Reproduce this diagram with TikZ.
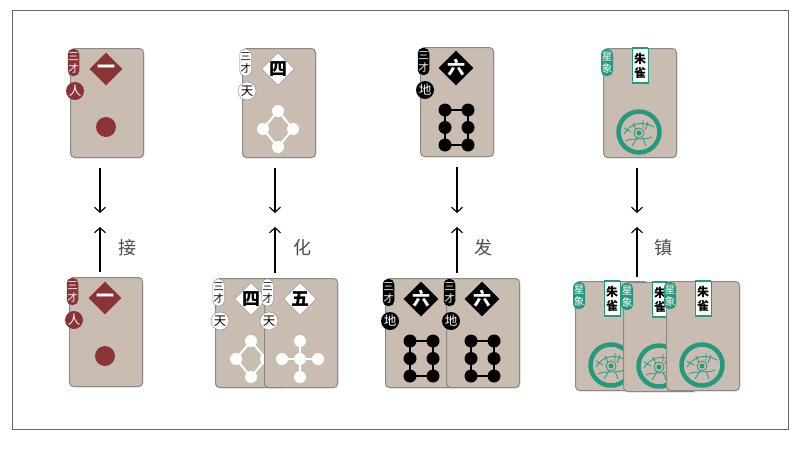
\documentclass[tikz,border=0pt]{standalone}
\usepackage{fontspec}
\setmainfont{Noto Sans CJK SC}
\usepackage{tikz}
\usetikzlibrary{shapes,arrows.meta,shadows}

\definecolor{fondcarte}{RGB}{201,189,177}
\definecolor{bordcarte}{RGB}{140,136,132}
\definecolor{rouge}{RGB}{139,52,55}
\definecolor{sarcelle}{RGB}{38,152,126}

\newcommand{\sancai}[6]{%
	\node[carte] (#1) at #2 {};
	\begin{scope}[shift={(#1.north west)}]
		\node[onglet,#3] (#1o) at (3.5,14.5) {三\\才};
		\node[pastille,#3] (#1p) at (5,43) {#4};
		\node[losange,#3] (#1l) at (36,21) {#5};
		#6
	\end{scope}}

\newcommand{\xingxiang}[2]{%
	\node[carte] (#1) at #2 {};
	\begin{scope}[shift={(#1.north west)}]
		\node[onglet,fill=sarcelle,text=white,minimum width=12pt] (#1o) at (4,14.5) {星\\象};
		\node[etiquette] (#1e) at (37,17.5) {朱\\雀};
		\draw[sarcelle,line width=2pt] (#1e.north west) -- (#1e.north east);
		\draw[sarcelle,line width=2pt] (#1e.south west) -- (#1e.south east);
		\draw[sarcelle,line width=4.5pt] (36,84) circle (20.5pt);
		\fill[sarcelle] (36,85) circle (2.5pt);
		\draw[sarcelle,line width=0.8pt] (21,86) .. controls (27,76) and (38,72) .. (51,79);
		\draw[sarcelle,line width=0.8pt] (23,93) .. controls (30,89) and (40,93) .. (49,89);
		\draw[sarcelle,line width=0.8pt] (30,75) -- (33,82) (40,72) -- (40,80) (45,74) -- (42,82);
		\draw[sarcelle,line width=0.8pt] (21,80) -- (28,84) (29,98) -- (34,90) (43,98) -- (40,90);
		\draw[sarcelle,line width=0.8pt] (36,85) circle (5pt);
	\end{scope}}

\newcommand{\motifun}{\fill[rouge] (36,79) circle (10pt);}
\newcommand{\motifquatre}{%
	\draw[white,line width=2pt] (36,63) -- (21,81) -- (36,99) -- (51,81) -- cycle;
	\foreach \p in {(36,63),(21,81),(51,81),(36,99)} \fill[white] \p circle (6pt);}
\newcommand{\motifcinq}{%
	\draw[white,line width=2pt] (36,63) -- (36,99) (18,81) -- (54,81);
	\foreach \p in {(36,63),(18,81),(36,81),(54,81),(36,99)} \fill[white] \p circle (6pt);}
\newcommand{\motifsix}{%
	\draw[black,line width=2pt] (25,63) rectangle (48,98);
	\foreach \p in {(25,63),(48,63),(25,80.5),(48,80.5),(25,98),(48,98)} \fill[black] \p circle (6.5pt);}

\begin{document}
\begin{tikzpicture}[x=1pt,y=-1pt]
	\tikzstyle{cadre}=[draw=black!60,line width=1pt]
	\tikzstyle{carte}=[rectangle,draw=bordcarte,fill=fondcarte,line width=1pt,
	rounded corners=4pt,minimum width=73pt,minimum height=109pt,inner sep=0pt,
	anchor=north west,drop shadow={opacity=0.25,shadow xshift=0.8pt,shadow yshift=-0.8pt}]
	\tikzstyle{onglet}=[rectangle,rounded corners=5pt,minimum width=11pt,
	minimum height=27pt,inner sep=0.5pt,align=center,font=\fontsize{10.5}{12}\selectfont]
	\tikzstyle{pastille}=[circle,minimum size=18pt,inner sep=0pt,font=\fontsize{12.5}{12.5}\selectfont]
	\tikzstyle{losange}=[diamond,minimum size=33pt,inner sep=0pt,font=\bfseries\fontsize{18}{18}\selectfont]
	\tikzstyle{etiquette}=[rectangle,fill=white,draw=sarcelle,line width=0.6pt,
	minimum width=16pt,minimum height=35pt,inner sep=1pt,align=center,
	font=\bfseries\fontsize{12}{14}\selectfont]
	\tikzstyle{ren}=[fill=rouge,text=white]
	\tikzstyle{tian}=[fill=white,text=black,draw=black!50,line width=0.4pt]
	\tikzstyle{di}=[fill=black,text=white]
	\tikzstyle{verbe}=[text=black!70,font=\fontsize{18}{18}\selectfont]

	\useasboundingbox (0,0) rectangle (805,450);
	\draw[cadre] (12,10) rectangle (788,429);

	\sancai{h1}{(70,48)}{ren}{人}{一}{\motifun}
	\sancai{h2}{(242,48)}{tian}{天}{四}{\motifquatre}
	\sancai{h3}{(420,47)}{di}{地}{六}{\motifsix}
	\xingxiang{h4}{(603,48)}

	\sancai{b1}{(69,277)}{ren}{人}{一}{\motifun}
	\sancai{b2a}{(215,278)}{tian}{天}{四}{\motifquatre}
	\sancai{b2b}{(264,278)}{tian}{天}{五}{\motifcinq}
	\sancai{b3a}{(385,278)}{di}{地}{六}{\motifsix}
	\sancai{b3b}{(446,278)}{di}{地}{六}{\motifsix}
	\xingxiang{b4a}{(575,281)}
	\xingxiang{b4b}{(623,282)}
	\xingxiang{b4c}{(666,281)}

	\node[verbe] (v1) at (127,248) {接};
	\node[verbe] (v2) at (302,248) {化};
	\node[verbe] (v3) at (483,248) {发};
	\node[verbe] (v4) at (663,248) {镇};

	\tikzstyle{fleche}=[-{Straight Barb[length=5pt,width=11pt]},line width=1.1pt]

	\coordinate (fin1) at (100,213);
	\coordinate (fin2) at (275,213);
	\coordinate (fin3) at (457,213);
	\coordinate (fin4) at (637,213);
	\coordinate (tete1) at (100,227);
	\coordinate (tete2) at (275,227);
	\coordinate (tete3) at (457,227);
	\coordinate (tete4) at (637,227);

	\draw[fleche,shorten <=10pt] (h1.south -| fin1) -- (fin1);
	\draw[fleche,shorten <=10pt] (h2.south -| fin2) -- (fin2);
	\draw[fleche,shorten <=10pt] (h3.south -| fin3) -- (fin3);
	\draw[fleche,shorten <=10pt] (h4.south -| fin4) -- (fin4);
	\draw[fleche,shorten <=5pt] (b1.north -| tete1) -- (tete1);
	\draw[fleche,shorten <=5pt] (b2b.north -| tete2) -- (tete2);
	\draw[fleche,shorten <=5pt] (b3b.north -| tete3) -- (tete3);
	\draw[fleche,shorten <=5pt] (b4b.north -| tete4) -- (tete4);
\end{tikzpicture}
\end{document}
